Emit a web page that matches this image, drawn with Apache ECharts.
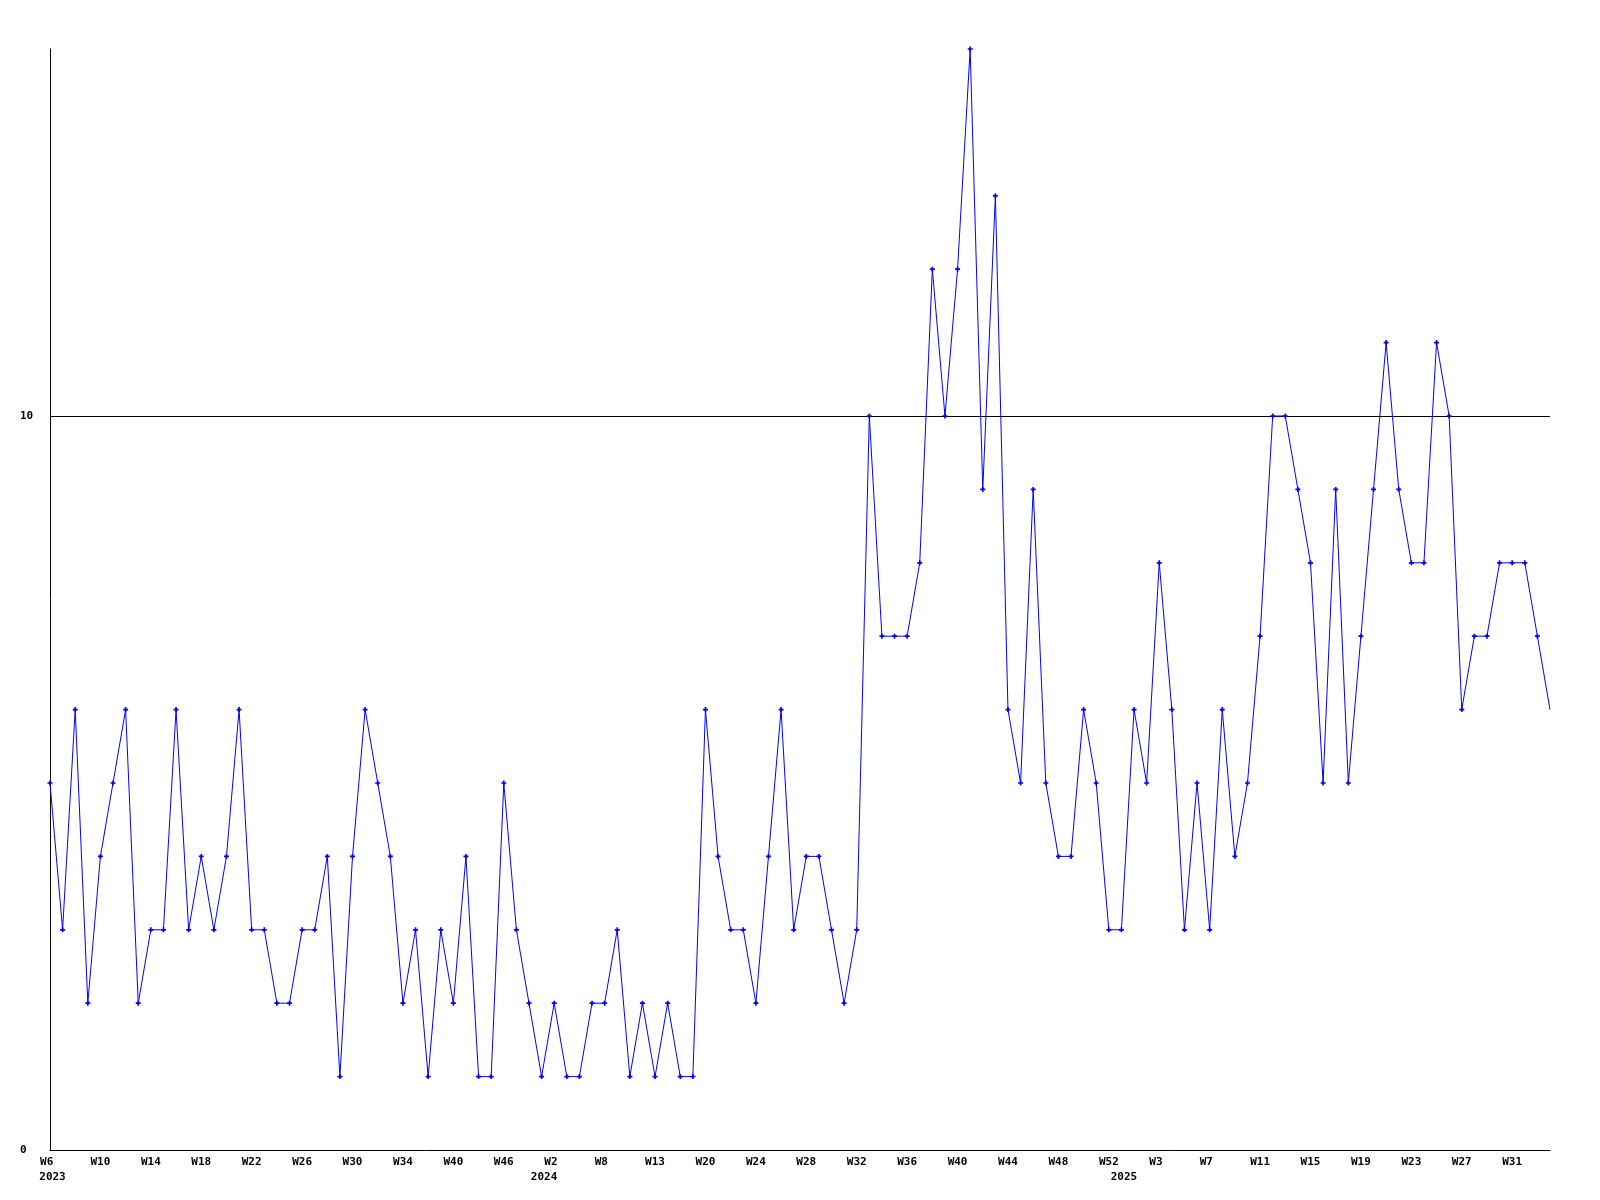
<!DOCTYPE html>
<html>
<head>
<meta charset="utf-8">
<script src="https://cdn.jsdelivr.net/npm/echarts@6/dist/echarts.min.js"></script>
<style>
  html, body { margin: 0; padding: 0; background: #ffffff; }
  #chart { width: 1600px; height: 1200px; }
</style>
</head>
<body>
<div id="chart"></div>
<script>
// Weekly values, one per point (120 points)
const values = [
  5, 3, 6, 2, 4, 5, 6, 2, 3, 3, 6, 3, 4, 3, 4, 6, 3, 3, 2, 2,
  3, 3, 4, 1, 4, 6, 5, 4, 2, 3, 1, 3, 2, 4, 1, 1, 5, 3, 2, 1,
  2, 1, 1, 2, 2, 3, 1, 2, 1, 2, 1, 1, 6, 4, 3, 3, 2, 4, 6, 3,
  4, 4, 3, 2, 3, 10, 7, 7, 7, 8, 12, 10, 12, 15, 9, 13, 6, 5, 9, 5,
  4, 4, 6, 5, 3, 3, 6, 5, 8, 6, 3, 5, 3, 6, 4, 5, 7, 10, 10, 9,
  8, 5, 9, 5, 7, 9, 11, 9, 8, 8, 11, 10, 6, 7, 7, 8, 8, 8, 7, 6
];

// Tick labels, one every 4 points
const tickLabels = [
  'W6', 'W10', 'W14', 'W18', 'W22', 'W26', 'W30', 'W34', 'W40', 'W46',
  'W2', 'W8', 'W13', 'W20', 'W24', 'W28', 'W32', 'W36', 'W40', 'W44',
  'W48', 'W52', 'W3', 'W7', 'W11', 'W15', 'W19', 'W23', 'W27', 'W31'
];
const tickStep = 4;

// Year labels and the point index they sit under
const yearNames = ['2023', '2024', '2025'];
const yearIndex = [0, 39, 85];

const categories = values.map((v, i) => String(i));

const seriesData = values.map((v, i) =>
  i === values.length - 1 ? { value: v, symbol: 'none' } : v
);

const font = {
  fontFamily: '"DejaVu Sans Mono", "Liberation Mono", monospace',
  fontWeight: 'bold',
  fontSize: 11,
  color: '#000000'
};

const chart = echarts.init(document.getElementById('chart'), null, { renderer: 'canvas' });
chart.setOption({
  animation: false,
  backgroundColor: '#ffffff',
  grid: { left: 50, right: 50, top: 49, bottom: 50, containLabel: false, outerBoundsMode: 'none' },
  xAxis: [
    {
      type: 'category',
      data: categories,
      boundaryGap: false,
      position: 'bottom',
      axisLine: { show: true, lineStyle: { color: '#000000', width: 1 } },
      axisTick: { show: false },
      splitLine: { show: false },
      axisLabel: Object.assign({}, font, {
        margin: 7,
        interval: (idx) => idx % tickStep === 0,
        formatter: (val, idx) => {
          const t = tickLabels[idx / tickStep];
          return t === undefined ? '' : t.padEnd(3, ' ');
        }
      })
    },
    {
      type: 'category',
      data: categories,
      boundaryGap: false,
      position: 'bottom',
      offset: 15,
      axisLine: { show: false },
      axisTick: { show: false },
      splitLine: { show: false },
      axisLabel: Object.assign({}, font, {
        margin: 7,
        padding: [0, 0, 0, 5],
        interval: (idx) => yearIndex.indexOf(idx) >= 0,
        formatter: (val, idx) => {
          const k = yearIndex.indexOf(idx);
          return k >= 0 ? yearNames[k] : '';
        }
      })
    }
  ],
  yAxis: {
    type: 'value',
    min: 0,
    max: 15,
    interval: 10,
    axisLine: { show: true, lineStyle: { color: '#000000', width: 1 } },
    axisTick: { show: false },
    splitLine: { show: true, showMinLine: false, showMaxLine: false, lineStyle: { color: '#000000', width: 1 } },
    axisLabel: Object.assign({}, font, {
      align: 'left',
      margin: 30,
      showMaxLabel: false,
      formatter: (v) => (v === 15 ? '' : String(v))
    })
  },
  series: [
    {
      type: 'line',
      xAxisIndex: 0,
      data: seriesData,
      symbol: 'path://M2,0H4V2H6V4H4V6H2V4H0V2H2Z',
      symbolSize: 5,
      showSymbol: true,
      showAllSymbol: true,
      lineStyle: { color: '#0000ff', width: 1 },
      itemStyle: { color: '#0000ff' },
      emphasis: { disabled: true }
    }
  ]
});
</script>
</body>
</html>
